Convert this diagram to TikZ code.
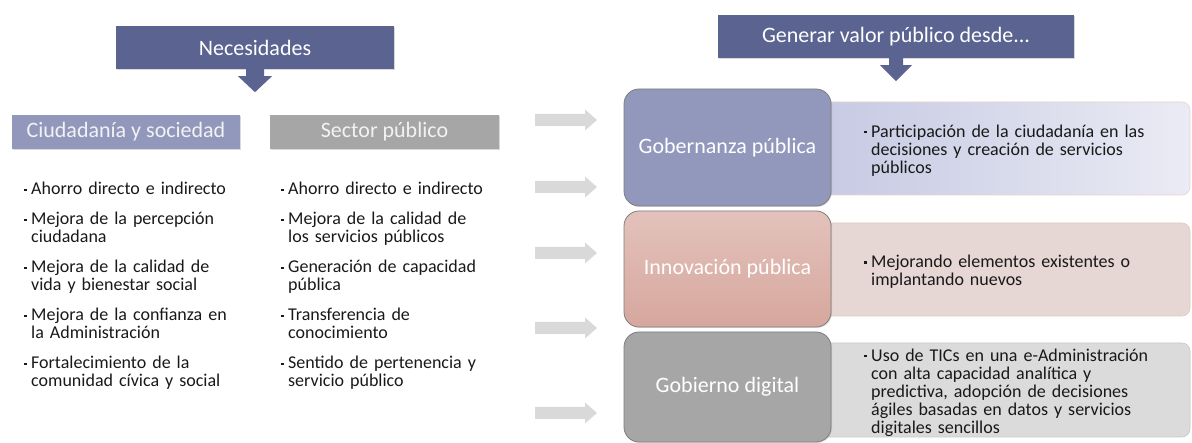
\documentclass[tikz,border=0pt]{standalone}
\usepackage{fontspec}
\setmainfont{Carlito}
\usetikzlibrary{shadows,calc}
\definecolor{hdr}{RGB}{91,99,145}
\definecolor{lav}{RGB}{146,152,188}
\definecolor{gry}{RGB}{166,166,166}
\definecolor{arrgray}{RGB}{217,217,217}
\definecolor{bordgray}{RGB}{125,125,125}
\definecolor{dOneL}{RGB}{196,200,226}
\definecolor{dOneR}{RGB}{234,235,244}
\definecolor{dOneB}{RGB}{236,208,200}
\definecolor{dTwo}{RGB}{230,214,212}
\definecolor{dTwoB}{RGB}{222,200,196}
\definecolor{dThree}{RGB}{219,219,219}
\definecolor{dThreeB}{RGB}{200,200,200}
\definecolor{innT}{RGB}{227,194,188}
\definecolor{innB}{RGB}{214,167,157}
\definecolor{txt}{RGB}{25,25,25}
\newcommand\bitem[1]{\par\noindent\hangindent=7pt\hangafter=1\makebox[7pt][l]{\rule[3.8pt]{2.6pt}{2.6pt}}\rule{0pt}{12.5pt}#1\par}
\newcommand\bodyfont{\fontsize{18}{18}\selectfont\raggedright\setlength{\parskip}{12pt}}
\begin{document}
\begin{tikzpicture}[x=1pt,y=-1pt,
  hdrbox/.style={fill=hdr, text=white, font=\fontsize{22}{26}\selectfont, inner sep=0pt,
    drop shadow={opacity=0.3, shadow xshift=1.2pt, shadow yshift=-1.2pt}},
  subbox/.style={text=white!95!black, font=\fontsize{22}{26}\selectfont, inner sep=0pt,
    minimum height=34pt, drop shadow={opacity=0.3, shadow xshift=1.2pt, shadow yshift=-1.2pt}},
  mainbox/.style={draw=bordgray, line width=0.8pt, rounded corners=15pt, minimum width=207pt,
    text=white, font=\fontsize{22}{26}\selectfont, inner sep=0pt,
    drop shadow={opacity=0.25, shadow xshift=1pt, shadow yshift=-1pt}},
  descbox/.style={rounded corners=8pt, line width=0.6pt, minimum width=390pt, inner sep=0pt},
  listtext/.style={anchor=north west, inner sep=0pt, text=txt, font=\bodyfont},
]
\useasboundingbox (0,0) rectangle (1192,443);

% headers
\node[hdrbox, minimum width=278pt, minimum height=43pt] (nec) at (255,47.5) {Necesidades};
\fill[hdr] ($(nec.south)+(-9,0)$) -- ++(18,0) -- ++(0,7) -- ++(8,0) -- ++(-17,16) -- ++(-17,-16) -- ++(8,0) -- cycle;
\node[hdrbox, minimum width=356pt, minimum height=43pt] (gen) at (896,36.5) {Generar valor público desde...};
\fill[hdr] ($(gen.south)+(-7,0)$) -- ++(14,0) -- ++(0,7) -- ++(9,0) -- ++(-16,16) -- ++(-16,-16) -- ++(9,0) -- cycle;

% sub headers
\node[subbox, fill=lav, minimum width=228pt] (ciu) at (126,132) {Ciudadanía y sociedad};
\node[subbox, fill=gry, minimum width=229pt] (sec) at (384.5,132) {Sector público};

% lists
\node[listtext, text width=250pt] (lcol) at (24,164.8) {%
\bitem{Ahorro directo e indirecto}
\bitem{Mejora de la percepción\newline ciudadana}
\bitem{Mejora de la calidad de\newline vida y bienestar social}
\bitem{Mejora de la confianza en\newline la Administración}
\bitem{Fortalecimiento de la\newline comunidad cívica y social}};
\node[listtext, text width=250pt] (rcol) at (281,164.8) {%
\bitem{Ahorro directo e indirecto}
\bitem{Mejora de la calidad de\newline los servicios públicos}
\bitem{Generación de capacidad\newline pública}
\bitem{Transferencia de\newline conocimiento}
\bitem{Sentido de pertenencia y\newline servicio público}};

% gray arrows
\foreach \i/\yy in {1/120,2/187,3/253,4/328,5/413}{
  \coordinate (ga\i) at (535,\yy);
  \fill[arrgray] (ga\i) ++(0,-6) -- ++(50,0) -- ++(0,-4.5) -- ++(12,10.5) -- ++(-12,10.5) -- ++(0,-4.5) -- ++(-50,0) -- cycle;
}

% description boxes
\node[descbox, draw=dOneB, left color=dOneL, right color=dOneR, minimum height=93pt] (d1) at (995,148.5) {};
\node[descbox, draw=dTwoB, fill=dTwo, minimum height=93pt] (d2) at (995,269.5) {};
\node[descbox, draw=dThreeB, fill=dThree, minimum height=94pt] (d3) at (995,390) {};

% main boxes
\node[mainbox, fill=lav, minimum height=117pt] (gob) at (727.5,147.5) {Gobernanza pública};
\node[mainbox, top color=innT, bottom color=innB, minimum height=116pt] (inn) at (727.5,269) {Innovación pública};
\node[mainbox, fill=gry, minimum height=110pt] (dig) at (727.5,387) {Gobierno digital};

% description texts
\node[listtext, text width=320pt] (t1) at (864,107) {%
\bitem{Participación de la ciudadanía en las\newline decisiones y creación de servicios\newline públicos}};
\node[listtext, text width=320pt] (t2) at (864,237.5) {%
\bitem{Mejorando elementos existentes o\newline implantando nuevos}};
\node[listtext, text width=320pt] (t3) at (864,331) {%
\bitem{Uso de TICs en una e-Administración\newline con alta capacidad analítica y\newline predictiva, adopción de decisiones\newline ágiles basadas en datos y servicios\newline digitales sencillos}};
\end{tikzpicture}
\end{document}
